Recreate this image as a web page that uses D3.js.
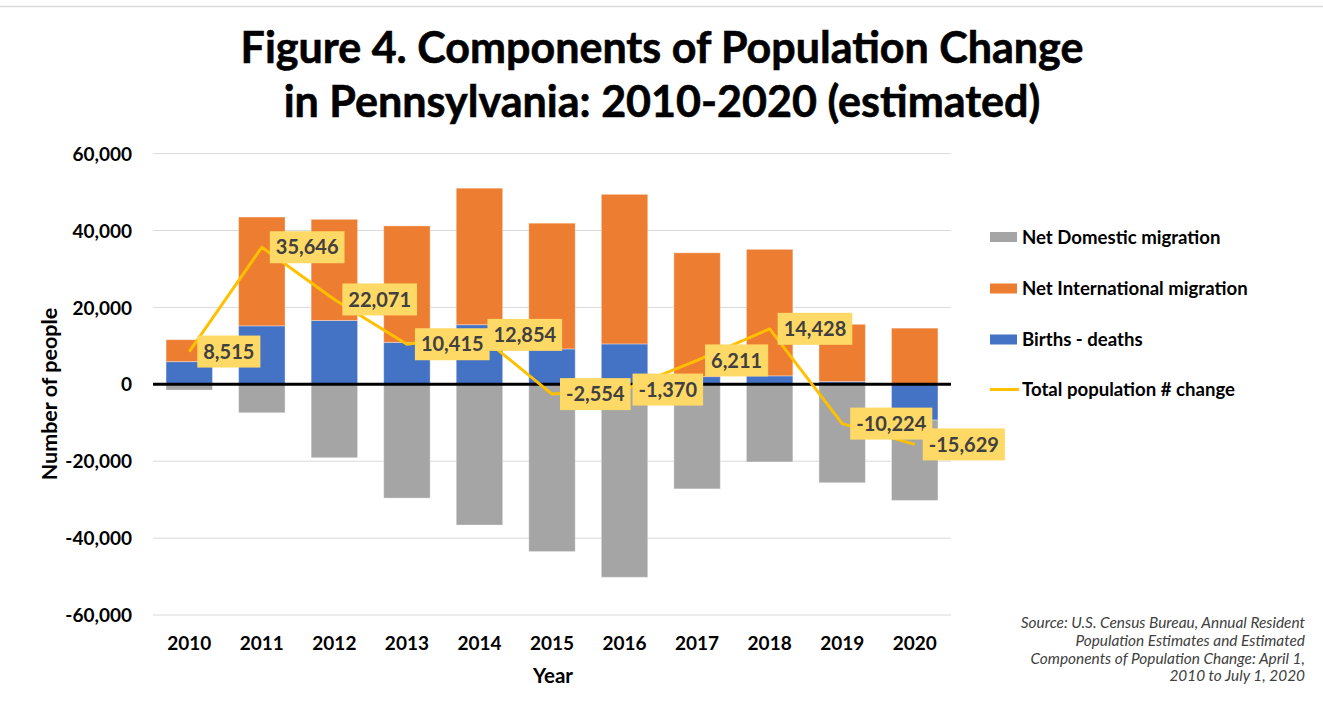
<!DOCTYPE html>
<html>
<head>
<meta charset="utf-8">
<script src="https://cdn.jsdelivr.net/npm/d3@7"></script>
<style>
  html, body { margin: 0; padding: 0; background: #fff; }
  svg { display: block; }
  text { font-family: Lato, "Open Sans", sans-serif; }
</style>
</head>
<body>
<svg id="chart" width="1323" height="708"></svg>
<script>
// ---- Data ----
const years = ["2010","2011","2012","2013","2014","2015","2016","2017","2018","2019","2020"];
const birthsDeaths = [5900, 15200, 16600, 10900, 15500, 9200, 10500, 2000, 2200, 700, -9300];
const international = [5700, 28300, 26300, 30300, 35500, 32700, 38900, 32200, 32900, 14900, 14600];
const domestic = [-1500, -7400, -19100, -29600, -36600, -43500, -50200, -27200, -20200, -25600, -20900];
const totalChange = [8515, 35646, 22071, 10415, 12854, -2554, -1370, 6211, 14428, -10224, -15629];
const yTicks = [-60000, -40000, -20000, 0, 20000, 40000, 60000];
const seriesNames = ["Net Domestic migration", "Net International migration", "Births - deaths", "Total population # change"];
const titleLines = ["Figure 4. Components of Population Change", "in Pennsylvania: 2010-2020 (estimated)"];
const sourceLines = ["Source: U.S. Census Bureau, Annual Resident", "Population Estimates and Estimated", "Components of Population Change: April 1,", "2010 to July 1, 2020"];

const colors = { births: "#4472C4", intl: "#ED7D31", dom: "#A5A5A5", total: "#FFC000", label: "#FFD966" };

const svg = d3.select("#chart");
const W = 1323, H = 708;

// top border line
svg.append("line").attr("x1", 0).attr("x2", W).attr("y1", 6.5).attr("y2", 6.5)
  .attr("stroke", "#d9d9d9").attr("stroke-width", 1.5);

// ---- Title ----
const titleTargets = [{ y: 63, w: 843 }, { y: 117, w: 757 }];
titleLines.forEach((t, i) => {
  const tx = svg.append("text").attr("x", 662).attr("y", titleTargets[i].y)
    .attr("text-anchor", "middle").attr("font-weight", "bold").attr("fill", "#000")
    .attr("stroke", "#000").attr("stroke-width", 0.6)
    .attr("font-size", 40).text(t);
  const len = tx.node().getComputedTextLength();
  tx.attr("font-size", 40 * titleTargets[i].w / len);
});

// ---- Scales ----
const x = d3.scaleBand().domain(years).range([153, 951]).paddingInner(0.36).paddingOuter(0.18);
const y = d3.scaleLinear().domain([-60000, 60000]).range([615, 153.6]);

// gridlines
const grid = svg.append("g");
grid.selectAll("line").data(yTicks.filter(d => d !== 0)).join("line")
  .attr("x1", 153).attr("x2", 951)
  .attr("y1", d => y(d)).attr("y2", d => y(d))
  .attr("stroke", "#d9d9d9").attr("stroke-width", 1);

// y axis labels
const yAxis = d3.axisLeft(y).tickValues(yTicks).tickSize(0).tickPadding(0)
  .tickFormat(d => d3.format(",")(d).replace("−", "-"));
const yg = svg.append("g").attr("transform", "translate(132,0)").call(yAxis);
yg.select(".domain").remove();
yg.selectAll("text").attr("font-family", "Lato").attr("font-weight", "bold")
  .attr("font-size", 19).attr("fill", "#000").attr("dy", "0.35em");

// x axis labels
const xAxis = d3.axisBottom(x).tickSize(0).tickPadding(0);
const xg = svg.append("g").attr("transform", "translate(0,636)").call(xAxis);
xg.select(".domain").remove();
xg.selectAll("text").attr("font-family", "Lato").attr("font-weight", "bold")
  .attr("font-size", 19).attr("fill", "#000").attr("dy", "0.72em");

// axis titles
svg.append("text").attr("x", 553).attr("y", 683).attr("text-anchor", "middle")
  .attr("font-weight", "bold").attr("font-size", 20.5).text("Year");
svg.append("text").attr("transform", "translate(57,394) rotate(-90)").attr("text-anchor", "middle")
  .attr("font-weight", "bold").attr("font-size", 21.5).text("Number of people");

// ---- Stacked bars ----
const rows = years.map((yr, i) => ({ year: yr, births: birthsDeaths[i], intl: international[i], dom: domestic[i] }));
const stack = d3.stack().keys(["births", "intl", "dom"]).offset(d3.stackOffsetDiverging);
const stacked = stack(rows);
svg.append("g").selectAll("g").data(stacked).join("g")
  .attr("fill", d => colors[d.key])
  .selectAll("rect").data(d => d).join("rect")
  .attr("x", d => x(d.data.year))
  .attr("width", x.bandwidth())
  .attr("y", d => y(Math.max(d[0], d[1])))
  .attr("height", d => Math.abs(y(d[0]) - y(d[1])))
  .attr("stroke", "#ffffff").attr("stroke-opacity", 0.35).attr("stroke-width", 1);

// zero line
svg.append("line").attr("x1", 153).attr("x2", 951).attr("y1", y(0)).attr("y2", y(0))
  .attr("stroke", "#000").attr("stroke-width", 3);

// ---- Total line ----
const cx = d => x(d) + x.bandwidth() / 2;
const line = d3.line().x((d, i) => cx(years[i])).y(d => y(d));
svg.append("path").datum(totalChange).attr("d", line)
  .attr("fill", "none").attr("stroke", colors.total).attr("stroke-width", 3)
  .attr("stroke-linejoin", "round");

// data labels
const fmt = d => d3.format(",")(d).replace("−", "-");
const lg = svg.append("g");
totalChange.forEach((v, i) => {
  const px = cx(years[i]), py = y(v);
  const g = lg.append("g");
  const r = g.append("rect").attr("fill", colors.label);
  const t = g.append("text").attr("font-weight", "bold").attr("font-size", 20)
    .attr("fill", "#404040").attr("dy", "0.36em").text(fmt(v));
  const tl = t.node().getComputedTextLength();
  const bx = px + 8, bw = tl + 12, bh = 32;
  r.attr("x", bx).attr("y", py - bh / 2).attr("width", bw).attr("height", bh);
  t.attr("x", bx + 6).attr("y", py);
});

// ---- Legend ----
const legY = [237, 288.5, 339.5, 389.5];
const legColors = [colors.dom, colors.intl, colors.births];
const leg = svg.append("g");
seriesNames.forEach((name, i) => {
  if (i < 3) {
    leg.append("rect").attr("x", 990).attr("y", legY[i] - 5).attr("width", 27).attr("height", 10)
      .attr("fill", legColors[i]);
  } else {
    leg.append("line").attr("x1", 990).attr("x2", 1019).attr("y1", legY[i]).attr("y2", legY[i])
      .attr("stroke", colors.total).attr("stroke-width", 3);
  }
  leg.append("text").attr("x", 1022).attr("y", legY[i]).attr("dy", "0.36em")
    .attr("font-weight", "bold").attr("font-size", 18.6).attr("fill", "#000").text(name);
});

// ---- Source note ----
sourceLines.forEach((s, i) => {
  svg.append("text").attr("x", 1305).attr("y", 628 + i * 17.8).attr("text-anchor", "end")
    .attr("font-style", "italic").attr("font-size", 15.4).attr("fill", "#404040").text(s);
});
</script>
</body>
</html>
